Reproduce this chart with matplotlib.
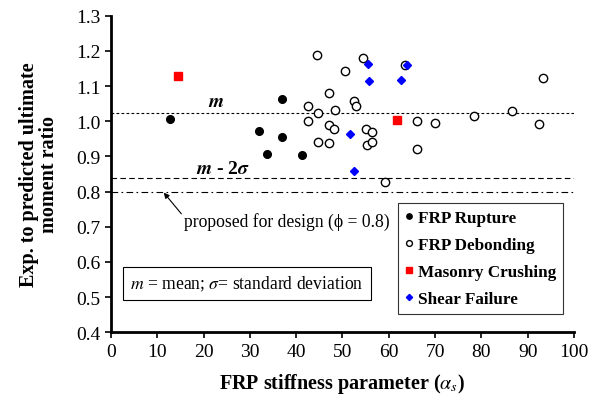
import matplotlib.pyplot as plt

plt.rcParams['font.family'] = ['Liberation Serif', 'DejaVu Serif']
plt.rcParams['mathtext.fontset'] = 'stix'

# stiffness parameter and moment ratio for each failure mode
rupture_x = [12.7, 32.0, 33.7, 37.0, 37.0, 41.3]
rupture_y = [1.006, 0.972, 0.907, 1.062, 0.955, 0.904]

debond_x = [42.5, 42.5, 44.5, 44.7, 44.7, 47.1, 47.1, 47.1, 48.2, 48.3, 50.6,
            52.4, 53.0, 54.5, 55.1, 55.4, 56.4, 56.4, 59.2, 63.5, 66.0, 66.0,
            69.9, 78.4, 86.6, 92.4, 93.4]
debond_y = [1.043, 1.000, 1.189, 1.023, 0.942, 1.080, 0.988, 0.939, 0.979, 1.031, 1.143,
            1.057, 1.044, 1.179, 0.978, 0.932, 0.969, 0.941, 0.828, 1.160, 1.000, 0.921,
            0.994, 1.016, 1.028, 0.993, 1.122]

crush_x = [14.4, 61.7]
crush_y = [1.128, 1.003]

shear_x = [51.7, 52.5, 55.5, 55.7, 62.6, 64.0]
shear_y = [0.964, 0.858, 1.163, 1.114, 1.117, 1.160]

mean_val = 1.023
mean_2sd = 0.838
design_val = 0.80

fig = plt.figure(figsize=(5.92, 4.02), dpi=100)
ax = fig.add_axes([0.1875, 0.171, 0.782, 0.7875])

ax.axhline(mean_val, color='black', lw=0.8, ls=(0, (2.5, 2)))
ax.axhline(mean_2sd, color='black', lw=0.8, ls=(0, (5, 3)))
ax.axhline(design_val, color='black', lw=0.8, ls=(0, (6, 3, 1.5, 3)))

ax.plot(rupture_x, rupture_y, 'o', ms=5.5, mfc='black', mec='black', label='FRP Rupture')
ax.plot(debond_x, debond_y, 'o', ms=6, mfc='white', mec='black', mew=1.0, label='FRP Debonding')
ax.plot(crush_x, crush_y, 's', ms=6, mfc='red', mec='red', label='Masonry Crushing')
ax.plot(shear_x, shear_y, 'D', ms=4.5, mfc='blue', mec='blue', label='Shear Failure')

ax.text(22.7, 1.057, '$\\boldsymbol{m}$', fontsize=14, ha='center', va='center')
ax.text(24.2, 0.865, '$\\boldsymbol{m}$ - 2$\\boldsymbol{\\sigma}$', fontsize=14,
        ha='center', va='center', fontweight='bold')

ax.annotate('proposed for design (\u03d5 = 0.8)', xy=(11.4, 0.797), xytext=(15.8, 0.717),
            fontsize=12.7, va='center', ha='left',
            arrowprops=dict(arrowstyle='-|>', color='black', lw=0.8, mutation_scale=8,
                            shrinkA=0, shrinkB=0, relpos=(0, 0.7)))

ax.text(4.2, 0.538, '$m$ = mean; $\\sigma$= standard deviation', fontsize=12.7,
        ha='left', va='center',
        bbox=dict(boxstyle='square,pad=0.4', fc='white', ec='black', lw=0.8))

leg = ax.legend(loc='lower right', bbox_to_anchor=(0.995, 0.03), frameon=True, fancybox=False,
                edgecolor='black', prop={'weight': 'bold', 'size': 12.3}, handlelength=0.5,
                handletextpad=0.3, labelspacing=0.66, borderpad=0.4, markerscale=0.7)
leg.get_frame().set_linewidth(0.8)

ax.set_xlim(0, 100)
ax.set_ylim(0.4, 1.3)
ax.set_xticks(range(0, 101, 10))
ax.set_yticks([0.4, 0.5, 0.6, 0.7, 0.8, 0.9, 1.0, 1.1, 1.2, 1.3])
ax.set_yticklabels(['0.4', '0.5', '0.6', '0.7', '0.8', '0.9', '1.0', '1.1', '1.2', '1.3'])
ax.tick_params(labelsize=14, direction='out', length=4, width=1.2)

ax.spines['top'].set_visible(False)
ax.spines['right'].set_visible(False)
ax.spines['left'].set_linewidth(2)
ax.spines['bottom'].set_linewidth(2)

ax.set_xlabel('FRP stiffness parameter ($\\alpha_s$)', fontsize=14.5, fontweight='bold', labelpad=8)
ax.set_ylabel('Exp. to predicted ultimate\nmoment ratio', fontsize=14.5, fontweight='bold',
              labelpad=12, linespacing=1.05)

fig.savefig('out.png', dpi=100)
